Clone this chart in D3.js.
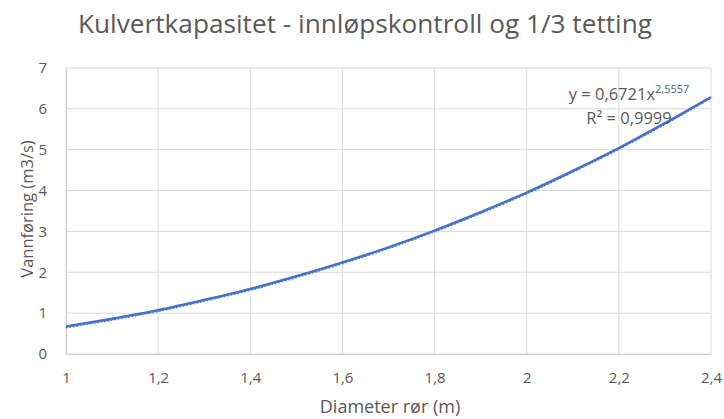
<!DOCTYPE html>
<html><head><meta charset="utf-8">
<script src="https://cdn.jsdelivr.net/npm/d3@7/dist/d3.min.js"></script>
<style>body{margin:0;background:#fff}svg{display:block}</style>
</head><body><svg id="c" width="724" height="419"></svg>
<script>
const diameters = [1.0,1.1,1.2,1.3,1.4,1.5,1.6,1.7,1.8,1.9,2.0,2.1,2.2,2.3,2.4];
const flows = [0.67,0.86,1.07,1.32,1.59,1.90,2.24,2.61,3.02,3.47,3.95,4.48,5.04,5.65,6.29];
const xTicks = [1,1.2,1.4,1.6,1.8,2,2.2,2.4];
const yTicks = [0,1,2,3,4,5,6,7];
const titleText = "Kulvertkapasitet - innløpskontroll og 1/3 tetting";
const xTitle = "Diameter rør (m)";
const yTitle = "Vannføring (m3/s)";
const eqText = ["y = 0,6721x", "2,5557"];
const r2Text = "R² = 0,9999";

const svg = d3.select("#c");
const font = "'Open Sans', 'Noto Sans', sans-serif";
const grey = "#595959";
const x = d3.scaleLinear().domain([1,2.4]).range([66,711]);
const y = d3.scaleLinear().domain([0,7]).range([354,68]);
const fmt = d => String(d).replace(".", ",");

// gridlines
svg.append("g").selectAll("line").data(yTicks).join("line")
  .attr("x1", 66).attr("x2", 711).attr("y1", d=>y(d)).attr("y2", d=>y(d))
  .attr("stroke", "#d9d9d9").attr("stroke-width", 1);
svg.append("g").selectAll("line").data(xTicks).join("line")
  .attr("y1", 68).attr("y2", 354).attr("x1", d=>x(d)).attr("x2", d=>x(d))
  .attr("stroke", "#d9d9d9").attr("stroke-width", 1);

// axes labels via d3 axes
const xAxis = svg.append("g").attr("transform","translate(0,354)")
  .call(d3.axisBottom(x).tickValues(xTicks).tickFormat(fmt).tickSize(0).tickPadding(18));
const yAxis = svg.append("g").attr("transform","translate(66,0)")
  .call(d3.axisLeft(y).tickValues(yTicks).tickFormat(fmt).tickSize(0).tickPadding(19));
[xAxis,yAxis].forEach(a=>{
  a.select(".domain").attr("stroke","#d0d0d0");
  a.selectAll("text").attr("fill",grey).style("font-family",font).style("font-size","15px");
});
xAxis.selectAll("text").attr("dy",null).attr("y",29);

// data line
const line = d3.line().x((d,i)=>x(diameters[i])).y(d=>y(d)).curve(d3.curveMonotoneX);
svg.append("path").datum(flows).attr("d", line)
  .attr("fill","none").attr("stroke","#4472c4").attr("stroke-width",2.6);
// trendline (dotted)
svg.append("path").datum(flows).attr("d", line)
  .attr("fill","none").attr("stroke","#4a78cc").attr("stroke-width",2)
  .attr("stroke-dasharray","1.5,2").attr("transform","translate(0,1)");

// title
svg.append("text").attr("x",365).attr("y",33).attr("text-anchor","middle")
  .attr("fill",grey).style("font-family","'Open Sans', sans-serif").style("font-size","25px")
  .attr("textLength",574).attr("lengthAdjust","spacingAndGlyphs").text(titleText);

// axis titles
svg.append("text").attr("x",390).attr("y",413).attr("text-anchor","middle")
  .attr("fill",grey).style("font-family",font).style("font-size","18px").text(xTitle);
svg.append("text").attr("transform","translate(33,209) rotate(-90)").attr("text-anchor","middle")
  .attr("fill",grey).style("font-family",font).style("font-size","16.5px").text(yTitle);

// equation
const eq = svg.append("text").attr("x",629).attr("y",100).attr("text-anchor","middle")
  .attr("fill",grey).style("font-family",font).style("font-size","16.5px");
eq.append("tspan").text(eqText[0]);
eq.append("tspan").attr("dy",-7).style("font-size","11px").text(eqText[1]);
svg.append("text").attr("x",629).attr("y",124).attr("text-anchor","middle")
  .attr("fill",grey).style("font-family",font).style("font-size","16.5px").text(r2Text);
</script></body></html>
